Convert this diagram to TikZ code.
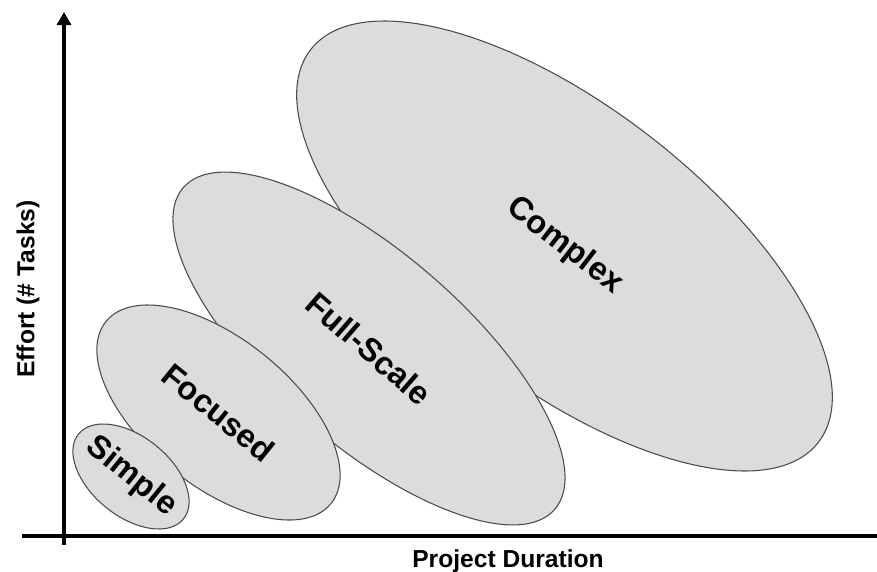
\documentclass[tikz,border=0pt]{standalone}
\usepackage{fontspec}
\setmainfont{Liberation Sans}
\usepackage{xcolor}
\usepackage{tikz}
\usetikzlibrary{shapes.geometric, arrows.meta}

\definecolor{regionfill}{HTML}{DCDCDC}
\definecolor{regionline}{HTML}{4A4A4A}

\tikzset{
    region/.style={ellipse, draw=regionline, fill=regionfill, line width=0.6pt,
        inner sep=0pt, font=\fontsize{18.5}{22}\selectfont\bfseries},
    axis/.style={line width=1.8pt, black},
    axislabel/.style={font=\fontsize{14}{16}\selectfont\bfseries}
}

\begin{document}
\begin{tikzpicture}[x=0.02cm, y=-0.02cm]
        \useasboundingbox (0,0) rectangle (877,572);

        % Project types, largest at the back
        \node[region, minimum width=12.84cm, minimum height=5.56cm, rotate=-37.7]
            (complex) at (564.5,246) {Complex};
        \node[region, minimum width=9.83cm, minimum height=3.83cm, rotate=-40.9]
            (fullscale) at (369,348.5) {Full-Scale};
        \node[region, minimum width=5.79cm, minimum height=2.94cm, rotate=-39]
            (focused) at (218.5,412.5) {Focused};
        \node[region, inner xsep=-5pt, minimum width=2.70cm, minimum height=1.59cm, rotate=-39]
            (simple) at (131,476.5) {Simple};

        % Axes
        \coordinate (ybot) at (64,545);
        \coordinate (ytop) at (64,12);
        \coordinate (xleft) at (22,536);
        \coordinate (xright) at (877,536);
        \draw[axis, -{Triangle[width=0.28cm, length=0.26cm]}] (ybot) -- (ytop);
        \draw[axis] (xleft) -- (xright);

        % Axis labels
        \node[axislabel, anchor=base] (xlabel) at (508,567) {Project Duration};
        \node[axislabel, rotate=90] (ylabel) at (28,289) {Effort (\# Tasks)};
    \end{tikzpicture}
\end{document}
